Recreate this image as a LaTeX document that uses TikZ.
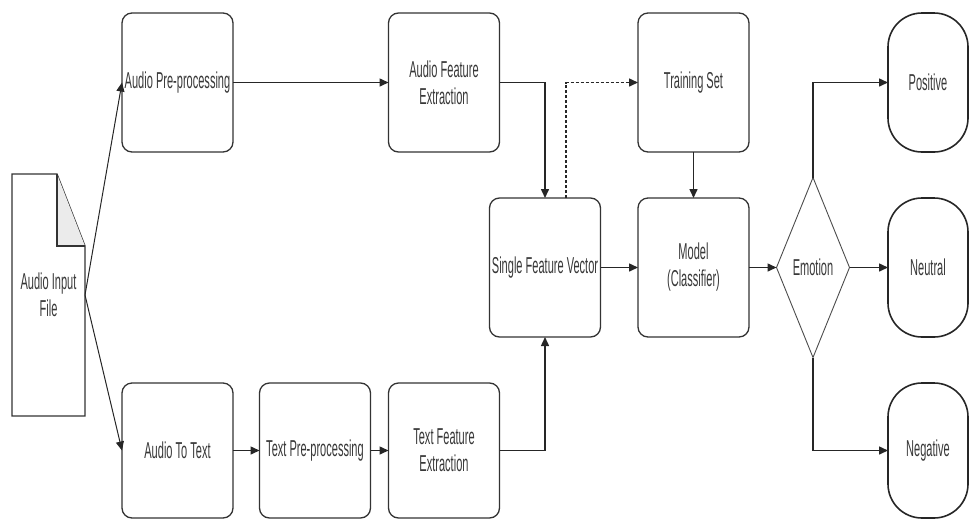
\documentclass[tikz,border=0pt]{standalone}
\usepackage{fontspec}
\setmainfont{Liberation Sans}[FakeStretch=0.48]
\usepackage{tikz}
\usetikzlibrary{arrows.meta,shapes.geometric}

\begin{document}
\begin{tikzpicture}[x=1pt,y=-1pt,
  every node/.style={font=\fontsize{23}{27}\selectfont, text=black!78, align=center, outer sep=0pt},
  box/.style={draw=black!80, line width=1.3pt, rounded corners=10pt, minimum width=111pt, minimum height=139pt, inner sep=1pt},
  term/.style={draw=black!85, line width=1.6pt, rounded corners=34pt, minimum width=80pt, minimum height=139pt},
  arr/.style={draw=black!85, line width=1.5pt, -{Triangle[length=9pt,width=8pt]}}]
\useasboundingbox (0,0) rectangle (969,520);

% input file
\node[minimum width=73pt, minimum height=242pt] (doc) at (48.5,295) {Audio Input\\File};
\draw[black!80, line width=1.3pt] (doc.north west) -- ([xshift=-28pt]doc.north east) -- ([yshift=-72pt]doc.north east) -- (doc.south east) -- (doc.south west) -- cycle;
\fill[black!8] ([xshift=-28pt]doc.north east) -- ([xshift=-28pt,yshift=-72pt]doc.north east) -- ([yshift=-72pt]doc.north east) -- cycle;
\draw[black!80, line width=1.3pt] ([xshift=-28pt]doc.north east) -- ([xshift=-28pt,yshift=-72pt]doc.north east) -- ([yshift=-72pt]doc.north east);

% audio branch
\node[box] (ap) at (177.5,82.5) {Audio Pre-processing};
\node[box] (afe) at (444,82.5) {Audio Feature\\Extraction};

% text branch
\node[box, minimum height=135pt] (att) at (177.5,450.5) {Audio To Text};
\node[box, minimum height=135pt] (tp) at (315,450.5) {Text Pre-processing};
\node[box, minimum height=135pt] (tfe) at (444,450.5) {Text Feature\\Extraction};

% fusion and model
\node[box] (sfv) at (545,267.5) {Single Feature Vector};
\node[box] (ts) at (693.5,82.5) {Training Set};
\node[box] (model) at (693.5,267.5) {Model\\(Classifier)};

% output
\node[diamond, draw=black!70, line width=0.9pt, minimum width=73pt, minimum height=180pt, inner sep=0pt] (emo) at (813,267.5) {Emotion};
\node[term] (pos) at (928,82.5) {Positive};
\node[term] (neu) at (928,267.5) {Neutral};
\node[term, minimum height=135pt] (neg) at (928,450.5) {Negative};

\draw[arr, line width=1pt] (doc.east) -- (ap.west);
\draw[arr, line width=1pt] (doc.east) -- (att.west);
\draw[arr] (ap.east) -- (afe.west);
\draw[arr] (att.east) -- (tp.west);
\draw[arr] (tp.east) -- (tfe.west);
\draw[arr] (afe.east) -| (sfv.north);
\draw[arr] (tfe.east) -| (sfv.south);
\draw[arr, dash pattern=on 3pt off 2pt] ([xshift=21pt]sfv.north) |- (ts.west);
\draw[arr] (ts.south) -- (model.north);
\draw[arr] (sfv.east) -- (model.west);
\draw[arr] (model.east) -- (emo.west);
\draw[arr] (emo.north) |- (pos.west);
\draw[arr] (emo.east) -- (neu.west);
\draw[arr] (emo.south) |- (neg.west);
\end{tikzpicture}
\end{document}
